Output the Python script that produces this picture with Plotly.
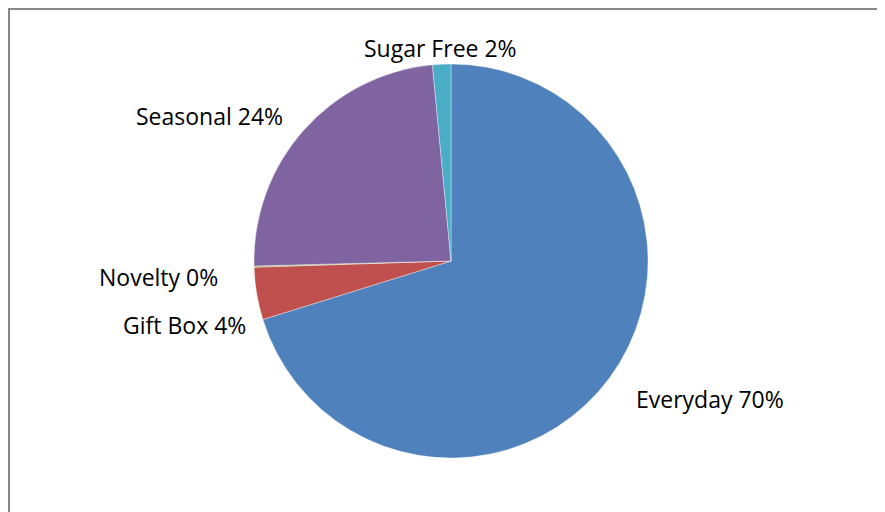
import plotly.graph_objects as go

categories = ["Everyday", "Gift Box", "Novelty", "Seasonal", "Sugar Free"]
values = [70.2, 4.3, 0.1, 23.9, 1.5]
colors = ["#4F81BD", "#C0504D", "#9BBB59", "#8064A2", "#4BACC6"]

W, H = 885, 512
OFF = 8  # page body margin
cx, cy, r = 451 - OFF, 261 - OFF, 197

fig = go.Figure(go.Pie(
    labels=categories,
    values=values,
    sort=False,
    direction="clockwise",
    rotation=0,
    marker=dict(colors=colors, line=dict(color="rgba(255,255,255,0.6)", width=0.6)),
    textinfo="none",
    hoverinfo="label+percent",
    domain=dict(x=[(cx - r) / W, (cx + r) / W], y=[1 - (cy + r) / H, 1 - (cy - r) / H]),
    showlegend=False,
))

total = sum(values)
# label anchor positions in screen pixels (x, y, xanchor)
label_pos = {
    "Sugar Free": (440, 48, "center"),
    "Seasonal": (285, 116, "right"),
    "Novelty": (220, 277, "right"),
    "Gift Box": (248, 325, "right"),
    "Everyday": (634, 399, "left"),
}
for cat, v in zip(categories, values):
    x, y, xa = label_pos[cat]
    fig.add_annotation(
        x=(x - OFF) / W, y=1 - (y - OFF) / H, xref="paper", yref="paper",
        xanchor=xa, yanchor="middle", showarrow=False,
        text=f"{cat} {round(100 * v / total)}%",
        font=dict(family="Open Sans", size=23, color="#000000"),
    )

# chart-area border (top and left edges visible)
fig.add_shape(type="rect", xref="paper", yref="paper",
              x0=0, y0=-0.2, x1=1.2, y1=1,
              line=dict(color="#888888", width=4), fillcolor="rgba(0,0,0,0)")

fig.update_layout(
    width=W, height=H,
    margin=dict(l=0, r=0, t=0, b=0),
    paper_bgcolor="white",
    plot_bgcolor="white",
)

fig.write_html("out.html")
